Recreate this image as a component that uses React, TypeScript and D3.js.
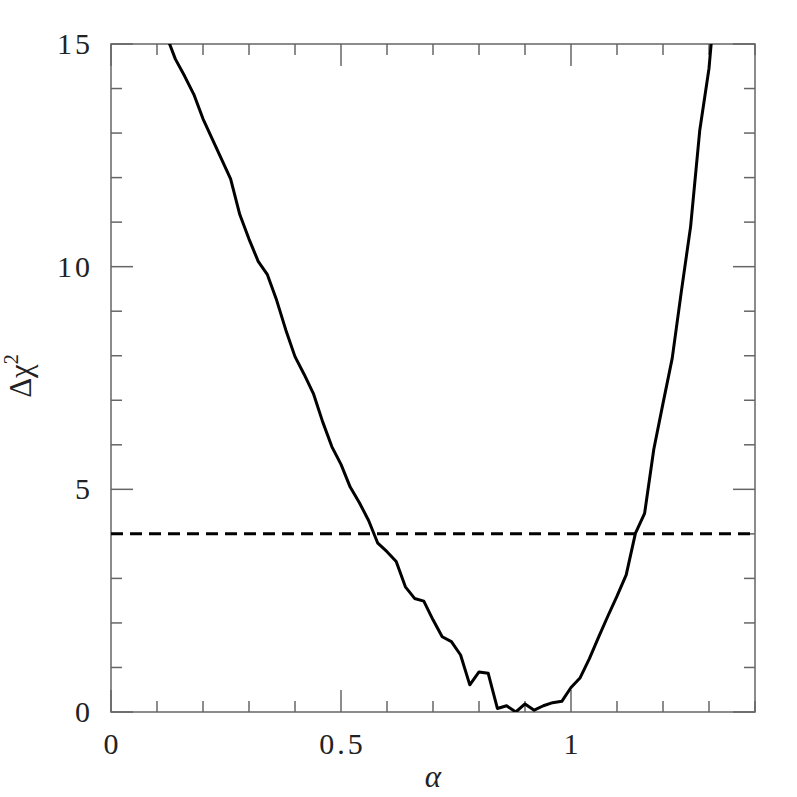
import React from "react";
import * as d3 from "d3";

const alphaValues: number[] = [
  0.12, 0.14, 0.16, 0.18, 0.2, 0.22, 0.24, 0.26, 0.28, 0.3, 0.32, 0.34, 0.36, 0.38, 0.4,
  0.42, 0.44, 0.46, 0.48, 0.5, 0.52, 0.54, 0.56, 0.58, 0.6, 0.62, 0.64, 0.66, 0.68, 0.7,
  0.72, 0.74, 0.76, 0.78, 0.8, 0.82, 0.84, 0.86, 0.88, 0.9, 0.92, 0.94, 0.96, 0.98, 1.0,
  1.02, 1.04, 1.06, 1.08, 1.1, 1.12, 1.14, 1.16, 1.18, 1.2, 1.22, 1.24, 1.26, 1.28, 1.3, 1.32,
];
const deltaChi2: number[] = [
  15.2, 14.66, 14.28, 13.87, 13.32, 12.87, 12.42, 11.97, 11.17, 10.62, 10.12, 9.82, 9.25, 8.58, 7.98,
  7.58, 7.15, 6.52, 5.96, 5.56, 5.05, 4.7, 4.3, 3.79, 3.6, 3.38, 2.81, 2.55, 2.49, 2.07,
  1.69, 1.58, 1.28, 0.61, 0.9, 0.87, 0.08, 0.14, 0.0, 0.18, 0.04, 0.14, 0.21, 0.24, 0.55,
  0.77, 1.2, 1.68, 2.15, 2.6, 3.08, 4.01, 4.46, 5.9, 6.93, 7.94, 9.45, 10.9, 13.07, 14.45, 16.8,
];
const thresholdLevel = 4;
const xMajorTicks: number[] = [0, 0.5, 1];
const xTickLabels: string[] = ["0", "0.5", "1"];
const yMajorTicks: number[] = [0, 5, 10, 15];
const yTickLabels: string[] = ["0", "5", "10", "15"];
const xDomain: [number, number] = [0, 1.4];
const yDomain: [number, number] = [0, 15];

export default function App() {
  const W = 797, H = 797;
  const left = 111, right = 755, top = 44, bottom = 712;
  const x = d3.scaleLinear().domain(xDomain).range([left, right]);
  const y = d3.scaleLinear().domain(yDomain).range([bottom, top]);

  const xMinor = d3.range(0, 1.4001, 0.1).map((v) => +v.toFixed(2));
  const yMinor = d3.range(0, 15.001, 1);
  const isXMajor = (v: number) => xMajorTicks.some((m) => Math.abs(m - v) < 1e-6);
  const isYMajor = (v: number) => yMajorTicks.some((m) => Math.abs(m - v) < 1e-6);

  const pts: [number, number][] = alphaValues.map((a, i) => [a, deltaChi2[i]]);
  const line = d3.line<[number, number]>().x((d) => x(d[0])).y((d) => y(d[1]));

  const axisColor = "#666";
  const font = "'Liberation Serif', 'DejaVu Serif', serif";
  const minorLen = 11, majorLen = 22;
  const ls = 3;

  return (
    <svg width={W} height={H} style={{ position: "absolute", left: 0, top: 0, background: "#fff" }}>
      <defs>
        <clipPath id="plotclip">
          <rect x={left} y={top} width={right - left} height={bottom - top} />
        </clipPath>
      </defs>
      <rect x={0} y={0} width={W} height={H} fill="#fff" />
      {xMinor.map((v) => {
        const len = isXMajor(v) ? majorLen : minorLen;
        return (
          <g key={"xt" + v}>
            <line x1={x(v)} x2={x(v)} y1={bottom} y2={bottom - len} stroke={axisColor} strokeWidth={1.5} />
            <line x1={x(v)} x2={x(v)} y1={top} y2={top + len} stroke={axisColor} strokeWidth={1.5} />
          </g>
        );
      })}
      {yMinor.map((v) => {
        const len = isYMajor(v) ? majorLen : minorLen;
        return (
          <g key={"yt" + v}>
            <line x1={left} x2={left + len} y1={y(v)} y2={y(v)} stroke={axisColor} strokeWidth={1.5} />
            <line x1={right} x2={right - len} y1={y(v)} y2={y(v)} stroke={axisColor} strokeWidth={1.5} />
          </g>
        );
      })}
      <rect x={left} y={top} width={right - left} height={bottom - top} fill="none" stroke={axisColor} strokeWidth={1.5} />
      {xMajorTicks.map((v, i) => (
        <text key={"xl" + v} x={x(v) + ls / 2} y={754} textAnchor="middle" fontFamily={font} fontSize={30} letterSpacing={ls} fill="#222">
          {xTickLabels[i]}
        </text>
      ))}
      {yMajorTicks.map((v, i) => (
        <text key={"yl" + v} x={90 + ls} y={y(v) + 10} textAnchor="end" fontFamily={font} fontSize={30} letterSpacing={ls} fill="#222">
          {yTickLabels[i]}
        </text>
      ))}
      <text x={433} y={787} textAnchor="middle" fontFamily={font} fontStyle="italic" fontSize={31} fill="#222">
        α
      </text>
      <text transform={`translate(31, 376) rotate(-90)`} textAnchor="middle" fontFamily={font} fontSize={31} fill="#222">
        Δχ
        <tspan fontSize={20} dy={-13}>2</tspan>
      </text>
      <line x1={left} x2={right} y1={y(thresholdLevel)} y2={y(thresholdLevel)} stroke="#000" strokeWidth={3} strokeDasharray="12 7" />
      <path d={line(pts) || ""} fill="none" stroke="#000" strokeWidth={3} strokeLinejoin="round" clipPath="url(#plotclip)" />
    </svg>
  );
}
